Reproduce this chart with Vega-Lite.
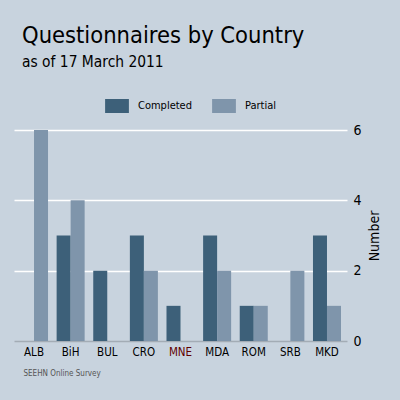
{
  "$schema": "https://vega.github.io/schema/vega-lite/v6.json",
  "autosize": "none",
  "width": 333,
  "height": 211,
  "padding": {"left": 14, "top": 130, "right": 53, "bottom": 59},
  "background": "#c8d3de",
  "title": {
    "text": "Questionnaires by Country",
    "subtitle": "as of 17 March 2011",
    "anchor": "start",
    "frame": "group",
    "dx": 8,
    "offset": 29,
    "fontSize": 23.5,
    "fontWeight": "normal",
    "color": "#000000",
    "subtitleFontSize": 15.4,
    "subtitleColor": "#000000",
    "subtitlePadding": 7,
    "font": "DejaVu Sans Condensed",
    "subtitleFont": "DejaVu Sans Condensed"
  },
  "data": {
    "values": [
      {"country": "ALB", "status": "Completed", "n": 0},
      {"country": "ALB", "status": "Partial", "n": 6},
      {"country": "BiH", "status": "Completed", "n": 3},
      {"country": "BiH", "status": "Partial", "n": 4},
      {"country": "BUL", "status": "Completed", "n": 2},
      {"country": "BUL", "status": "Partial", "n": 0},
      {"country": "CRO", "status": "Completed", "n": 3},
      {"country": "CRO", "status": "Partial", "n": 2},
      {"country": "MNE", "status": "Completed", "n": 1},
      {"country": "MNE", "status": "Partial", "n": 0},
      {"country": "MDA", "status": "Completed", "n": 3},
      {"country": "MDA", "status": "Partial", "n": 2},
      {"country": "ROM", "status": "Completed", "n": 1},
      {"country": "ROM", "status": "Partial", "n": 1},
      {"country": "SRB", "status": "Completed", "n": 0},
      {"country": "SRB", "status": "Partial", "n": 2},
      {"country": "MKD", "status": "Completed", "n": 3},
      {"country": "MKD", "status": "Partial", "n": 1}
    ]
  },
  "mark": {"type": "bar"},
  "encoding": {
    "x": {
      "field": "country",
      "type": "nominal",
      "sort": null,
      "scale": {"paddingInner": 0.235, "paddingOuter": 0.164},
      "axis": {
        "title": "SEEHN Online Survey",
        "titleFontSize": 8,
        "titleFontWeight": "normal",
        "titleColor": "#555555",
        "titleAnchor": "start",
        "titleAlign": "left",
        "titleBaseline": "alphabetic",
        "titleX": 9,
        "titleY": 34,
        "labelAngle": 0,
        "labelFontSize": 11.5,
        "labelPadding": 5,
        "labelColor": {"condition": {"test": "datum.value === 'MNE'", "value": "#600000"}, "value": "#000000"},
        "ticks": false,
        "domain": false,
        "grid": false
      }
    },
    "xOffset": {
      "field": "status",
      "type": "nominal",
      "scale": {"paddingInner": 0, "paddingOuter": 0}
    },
    "y": {
      "field": "n",
      "type": "quantitative",
      "scale": {"domain": [0, 6], "nice": false},
      "axis": {
        "orient": "right",
        "title": "Number",
        "titleAngle": -90,
        "titleFontSize": 14,
        "titleFontWeight": "normal",
        "titleColor": "#000000",
        "titlePadding": 20,
        "values": [0, 2, 4, 6],
        "labelFontSize": 14,
        "labelColor": "#000000",
        "labelPadding": 6,
        "ticks": false,
        "domain": false,
        "grid": true,
        "gridColor": {"condition": {"test": "datum.value === 0", "value": "#a3acb5"}, "value": "#ffffff"},
        "gridWidth": 1.5,
        "gridOpacity": 1
      }
    },
    "color": {
      "field": "status",
      "type": "nominal",
      "scale": {"domain": ["Completed", "Partial"], "range": ["#3d6079", "#7f95ab"]},
      "legend": {
        "title": null,
        "orient": "none",
        "legendX": 96,
        "legendY": -31,
        "direction": "horizontal",
        "symbolType": "M-1.7,-1L1.7,-1L1.7,1L-1.7,1Z",
        "symbolSize": 196,
        "symbolStrokeWidth": 0,
        "symbolOpacity": 1,
        "labelFontSize": 11,
        "labelColor": "#000000",
        "labelOffset": 14,
        "columnPadding": 20
      }
    }
  },
  "config": {
    "font": "DejaVu Sans Condensed",
    "view": {"stroke": null}
  }
}
